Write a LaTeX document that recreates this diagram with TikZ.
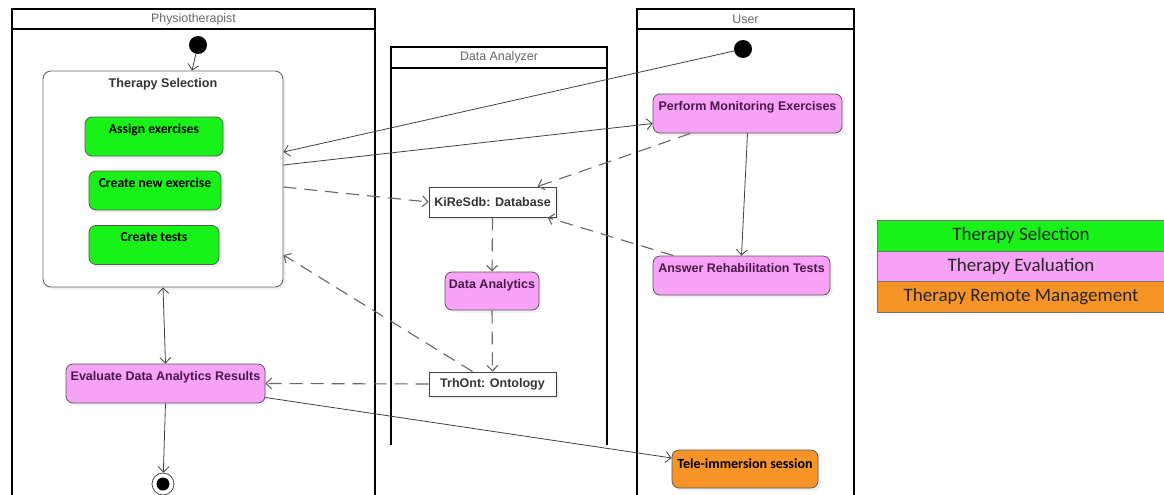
\documentclass[tikz,border=0pt]{standalone}
\usepackage{fontspec}
\setmainfont{Liberation Sans}
\newfontfamily\calibri{Carlito}
\usetikzlibrary{arrows.meta,shadows}
\definecolor{actgreen}{RGB}{24,242,24}
\definecolor{actpink}{RGB}{248,162,248}
\definecolor{actorange}{RGB}{247,148,40}
\definecolor{pinktext}{RGB}{72,24,72}
\definecolor{linegray}{RGB}{64,64,64}

\begin{document}
\begin{tikzpicture}[x=1pt, y=-1pt, >={Straight Barb[length=5.5pt,width=11pt]}]
        \tikzstyle{lane} = [draw=black, line width=1.6pt]
        \tikzstyle{title} = [font=\fontsize{12.4}{14}\selectfont, text=black!60]
        \tikzstyle{act} = [rectangle, rounded corners=7pt, draw=black!65, line width=0.8pt,
                text height=12pt, text depth=19pt, inner ysep=4pt, inner xsep=0pt,
                drop shadow={shadow xshift=2.5pt, shadow yshift=-2.5pt, opacity=0.12}]
        \tikzstyle{eval} = [act, fill=actpink, text=pinktext, font=\bfseries\fontsize{12.5}{14}\selectfont]
        \tikzstyle{select} = [act, fill=actgreen, font=\calibri\bfseries\fontsize{13.6}{15}\selectfont]
        \tikzstyle{object} = [rectangle, draw=black!75, line width=0.9pt, fill=white, inner xsep=0pt,
                text=black!80, font=\bfseries\fontsize{12.5}{14}\selectfont,
                drop shadow={shadow xshift=2.5pt, shadow yshift=-2.5pt, opacity=0.12}]
        \tikzstyle{start} = [circle, fill=black, minimum size=18pt, inner sep=0pt]
        \tikzstyle{legend} = [rectangle, draw=black!55, minimum width=288pt, minimum height=30.5pt,
                inner sep=0pt, font=\calibri\fontsize{19}{21}\selectfont, text=black!85]
        \tikzstyle{flow} = [draw=linegray, line width=0.8pt]
        \tikzstyle{data} = [draw=black!60, line width=1.1pt, dash pattern=on 13pt off 8pt]

        \useasboundingbox (0,0) rectangle (1164,495);

        % swimlanes
        \draw[lane] (12,497) -- (12,9) -- (375,9) -- (375,497);
        \draw[lane] (12,29) -- (375,29);
        \draw[lane] (391,445) -- (391,47) -- (607,47) -- (607,445);
        \draw[lane] (391,68) -- (607,68);
        \draw[lane] (637,497) -- (637,9) -- (854,9) -- (854,497);
        \draw[lane] (637,29) -- (854,29);
        \node[title] (physio) at (193.5,19) {Physiotherapist};
        \node[title] (analyzer) at (499,57.5) {Data Analyzer};
        \node[title] (user) at (745.5,19) {User};

        % physiotherapist
        \node[start] (ps) at (198,45) {};
        \node[rectangle, rounded corners=8pt, draw=black!60, line width=0.9pt, fill=white,
                minimum width=240pt, text height=12pt, text depth=196pt, inner ysep=4pt,
                text=black!80, font=\bfseries\fontsize{12.6}{14}\selectfont,
                drop shadow={shadow xshift=2.5pt, shadow yshift=-2.5pt, opacity=0.12}]
                (ts) at (163,179) {Therapy Selection};
        \node[select, minimum width=138pt] (assign) at (154,136.5) {Assign exercises};
        \node[select, minimum width=132pt] (newex) at (155,190.5) {Create new exercise};
        \node[select, minimum width=130pt] (tests) at (154,245) {Create tests};
        \node[eval, minimum width=199pt] (ev) at (165.5,383.5) {Evaluate Data Analytics Results};
        \node[circle, draw=black!70, fill=white, line width=0.8pt, minimum size=22pt, inner sep=0pt,
                path picture={\fill[black] (path picture bounding box.center) circle (6.5pt);}]
                (pe) at (163,484) {};

        % data analyzer
        \node[object, minimum width=127pt, minimum height=30pt] (kb) at (492.5,202) {KiReSdb: Database};
        \node[eval, minimum width=94pt, text depth=18pt] (da) at (492,291) {Data Analytics};
        \node[object, minimum width=127pt, minimum height=24pt] (on) at (492.5,384) {TrhOnt: Ontology};

        % user
        \node[start] (us) at (743,49) {};
        \node[eval, minimum width=189pt] (pm) at (747.5,113.5) {Perform Monitoring Exercises};
        \node[eval, minimum width=177pt] (ar) at (741.5,275.5) {Answer Rehabilitation Tests};
        \node[act, fill=actorange, minimum width=146pt, text height=14pt, text depth=16pt,
                font=\calibri\bfseries\fontsize{14}{16}\selectfont] (tele) at (745,469) {Tele-immersion session};

        % legend
        \node[legend, fill=actgreen] (lsel) at (1021,235.5) {Therapy Selection};
        \node[legend, fill=actpink] (leval) at (1021,266) {Therapy Evaluation};
        \node[legend, fill=actorange] (lrem) at (1021,296.5) {Therapy Remote Management};

        \path[->]
                (ps) edge[flow] ([xshift=29pt]ts.north)
                (us) edge[flow] ([yshift=27pt]ts.east)
                ([yshift=14pt]ts.east) edge[flow] ([yshift=-10pt]pm.west)
                (ts.south) edge[flow, <->] (ev.north)
                (ev.south) edge[flow] (pe)
                (pm.south) edge[flow] (ar.north)
                ([yshift=-14pt]ev.east) edge[flow] ([yshift=11pt]tele.west)
                ([yshift=-8pt]ts.east) edge[data] (kb.west)
                ([xshift=-57pt]pm.south) edge[data] ([xshift=45pt]kb.north)
                ([xshift=-68pt]ar.north) edge[data] ([xshift=55pt]kb.south)
                (kb.south) edge[data] (da.north)
                (da.south) edge[data] (on.north)
                ([xshift=-20pt]on.north) edge[data] ([yshift=-76pt]ts.east)
                (on.west) edge[data] (ev.east);
\end{tikzpicture}
\end{document}
